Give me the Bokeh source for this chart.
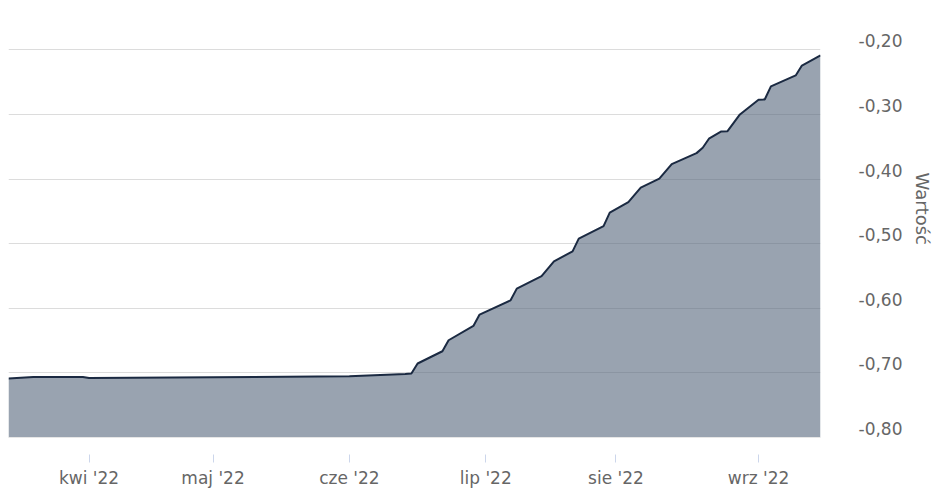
import numpy as np
from bokeh.plotting import figure
from bokeh.models import Range1d, FixedTicker, Title, ColumnDataSource, LinearAxis
from bokeh.embed import file_html
from bokeh.resources import INLINE

# ---- data ----
dates = ["2022-03-15", "2022-03-21", "2022-03-31", "2022-04-01", "2022-05-02",
         "2022-06-01", "2022-06-14", "2022-06-15", "2022-06-16", "2022-06-22",
         "2022-06-23", "2022-06-29", "2022-06-30", "2022-07-07", "2022-07-08",
         "2022-07-14", "2022-07-18", "2022-07-21", "2022-07-22", "2022-07-28",
         "2022-07-29", "2022-08-03", "2022-08-05", "2022-08-10", "2022-08-12",
         "2022-08-18", "2022-08-19", "2022-08-22", "2022-08-24", "2022-08-25",
         "2022-08-29", "2022-09-01", "2022-09-02", "2022-09-05", "2022-09-09",
         "2022-09-12", "2022-09-15"]
values = [-0.7087, -0.7064, -0.7063, -0.7080, -0.7067,
          -0.7052, -0.7016, -0.7010, -0.6855, -0.6665,
          -0.6495, -0.6274, -0.6098, -0.5877, -0.5696,
          -0.5501, -0.5274, -0.5119, -0.4923, -0.4728,
          -0.4520, -0.4357, -0.4134, -0.3995, -0.3769,
          -0.3599, -0.3515, -0.3376, -0.3263, -0.3259,
          -0.3000, -0.2773, -0.2769, -0.2567, -0.2397,
          -0.2243, -0.2088]

month_starts = ["2022-04-01", "2022-05-01", "2022-06-01", "2022-07-01", "2022-08-01", "2022-09-01"]
month_labels = ["kwi '22", "maj '22", "cze '22", "lip '22", "sie '22", "wrz '22"]

y_ticks = [-0.8, -0.7, -0.6, -0.5, -0.4, -0.3, -0.2]
y_tick_labels = ["-0,80", "-0,70", "-0,60", "-0,50", "-0,40", "-0,30", "-0,20"]

y_min, y_max = -0.8, -0.2
axis_title = "Wartość"

# tick labels sit slightly above their grid lines (as in the reference)
label_lift = 0.0139          # in value units (~9 px)
y_top = y_max + label_lift   # a little headroom so the top label fits

# ordinal (trading-day) axis
origin = "2022-04-01"
holidays = ["2022-04-18"]
x = np.busday_count(origin, np.array(dates, dtype="datetime64[D]"), holidays=holidays).astype(float)
tick_x = np.busday_count(origin, np.array(month_starts, dtype="datetime64[D]"), holidays=holidays).astype(float)

src = ColumnDataSource(dict(x=x, y=values, base=[y_min] * len(values)))

FONT = "DejaVu Sans"
LABEL_COLOR = "#666666"

p = figure(width=948, height=490, output_backend="svg", toolbar_location=None,
           x_range=Range1d(x.min(), x.max()), y_range=Range1d(y_min, y_top + 0.0005),
           y_axis_location=None,
           min_border_left=8, min_border_right=128, min_border_top=40, min_border_bottom=53)
p.extra_y_ranges = {"labels": Range1d(y_min - label_lift, y_top + 0.0005 - label_lift)}
p.outline_line_color = None
p.background_fill_color = "white"
p.border_fill_color = "white"

p.varea(x="x", y1="base", y2="y", source=src, fill_color="#55667b", fill_alpha=0.6)
p.line(x="x", y="y", source=src, line_color="#1b2a42", line_width=2)

# y axis (labels only)
yax = LinearAxis(y_range_name="labels")
yax.ticker = FixedTicker(ticks=y_ticks)
yax.major_label_overrides = {t: l for t, l in zip(y_ticks, y_tick_labels)}
yax.axis_line_color = None
yax.major_tick_line_color = None
yax.minor_tick_line_color = None
yax.major_tick_out = 0
yax.major_tick_in = 0
yax.major_label_standoff = 38
yax.major_label_text_font = FONT
yax.major_label_text_font_size = "17px"
yax.major_label_text_color = LABEL_COLOR
p.add_layout(yax, "right")

# x axis
xax = p.xaxis[0]
xax.ticker = FixedTicker(ticks=list(tick_x))
xax.major_label_overrides = {float(t): l for t, l in zip(tick_x, month_labels)}
xax.axis_line_color = "#e6e6e6"
xax.major_tick_line_color = "#ccd6eb"
xax.minor_tick_line_color = None
xax.major_tick_in = -17
xax.major_tick_out = 25
xax.major_label_standoff = 5
xax.major_label_text_font = FONT
xax.major_label_text_font_size = "17px"
xax.major_label_text_color = LABEL_COLOR

p.xgrid.grid_line_color = None
p.ygrid.ticker = FixedTicker(ticks=y_ticks)
p.ygrid.grid_line_color = "#dcdcdc"
p.ygrid.grid_line_width = 1

title = Title(text=axis_title, align="left", offset=132, standoff=12,
              text_font=FONT, text_font_size="18px", text_font_style="normal",
              text_color=LABEL_COLOR)
p.add_layout(title, "right")

open("out.html", "w").write(file_html(p, INLINE))
